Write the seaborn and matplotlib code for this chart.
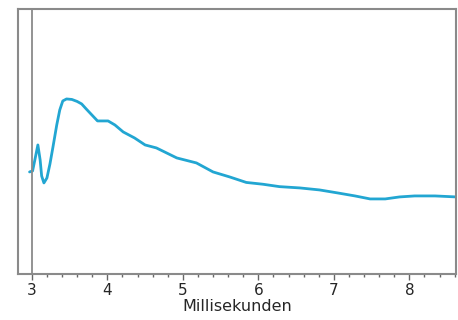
import matplotlib
matplotlib.use("Agg")
import matplotlib.pyplot as plt
from matplotlib.ticker import MultipleLocator
import seaborn as sns
import pandas as pd

# trace (y in arbitrary units, axis 0..265)
ms = [2.97, 3.01, 3.04, 3.08, 3.11, 3.13, 3.16, 3.20, 3.24, 3.28, 3.33, 3.37,
      3.41, 3.46, 3.53, 3.60, 3.66, 3.72, 3.77, 3.87, 3.94, 4.01, 4.10, 4.21,
      4.36, 4.50, 4.65, 4.92, 5.18, 5.40, 5.62, 5.84, 6.06, 6.28, 6.55,
      6.81, 7.05, 7.28, 7.48, 7.68, 7.87, 8.07, 8.34, 8.62]
signal = [102, 103, 114, 129, 114, 98, 91, 96, 110, 127, 149, 164,
          173, 175, 174.5, 172.5, 170, 165, 161, 153, 153, 153, 149, 142,
          136, 129, 126, 116, 111, 102, 97, 91.5, 89.7, 87.3, 86,
          84, 81, 78, 75, 75, 77, 78, 78, 77]
xticks = [3, 4, 5, 6, 7, 8]

df = pd.DataFrame({"ms": ms, "signal": signal})

sns.set_style("white")
fig = plt.figure(figsize=(4.58, 3.2), dpi=100)
ax = fig.add_axes([0.039, 0.144, 0.957, 0.828])

sns.lineplot(data=df, x="ms", y="signal", ax=ax, color="#22a6d2", linewidth=2.0)
ax.axvline(3.0, color="#8a8a8a", linewidth=1.3)

ax.set_xlim(2.815, 8.62)
ax.set_ylim(0, 265)
ax.set_xticks(xticks)
ax.xaxis.set_minor_locator(MultipleLocator(0.2))
ax.set_yticks([])
ax.tick_params(axis="x", which="major", bottom=True, direction="out", length=4.5,
               width=1, color="#666666", labelsize=11, pad=2)
ax.tick_params(axis="x", which="minor", bottom=True, direction="out", length=2.5,
               width=1, color="#666666")
for s in ax.spines.values():
    s.set_color("#8a8a8a")
    s.set_linewidth(1.5)

ax.set_xlabel("Millisekunden", fontsize=11.5, labelpad=1)
ax.set_ylabel("")

fig.savefig("out.png", dpi=100)
